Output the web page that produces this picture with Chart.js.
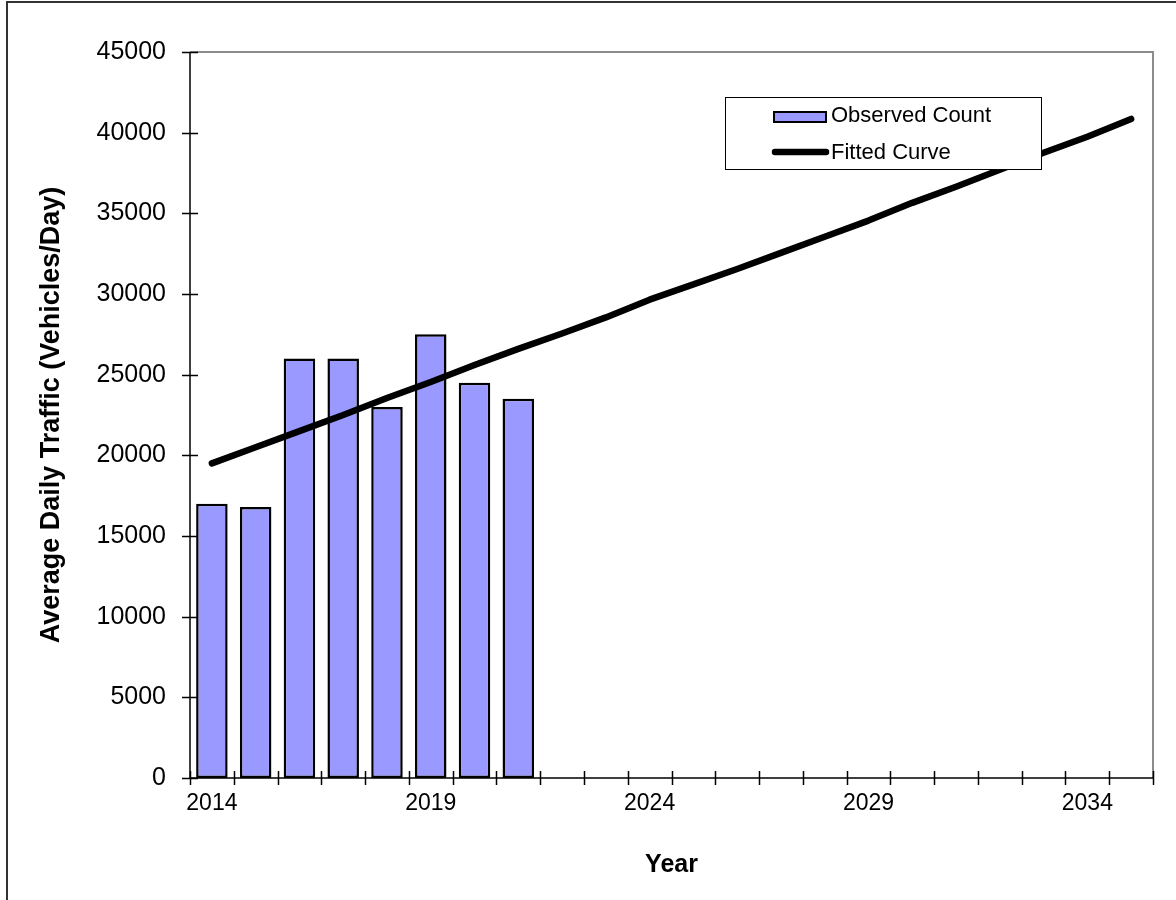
<!DOCTYPE html>
<html>
<head>
<meta charset="utf-8">
<script src="https://cdn.jsdelivr.net/npm/chart.js@4.4.1/dist/chart.umd.min.js"></script>
<style>
  html, body { margin: 0; padding: 0; background: #ffffff; overflow: hidden; }
  canvas { display: block; }
</style>
</head>
<body>
<canvas id="traffic" width="1176" height="900"></canvas>
<script>
// Years on the category axis
const years = ['2014', '2015', '2016', '2017', '2018', '2019', '2020', '2021', '2022', '2023', '2024',
               '2025', '2026', '2027', '2028', '2029', '2030', '2031', '2032', '2033', '2034', '2035'];

// Counted average daily traffic (vehicles/day)
const observedCount = [17000, 16800, 26000, 26000, 23000, 27500, 24500, 23500,
                       null, null, null, null, null, null, null, null, null, null, null, null, null, null];

// Trend fitted through the counts and projected forward
const fittedCurve = [19500, 20500, 21500, 22500, 23550, 24550, 25600, 26600, 27550, 28550, 29650,
                     30600, 31550, 32550, 33550, 34550, 35650, 36650, 37700, 38750, 39750, 40850];

// Years that carry a label under the axis
const labeledYears = ['2014', '2019', '2024', '2029', '2034'];

// Value axis range and step
const yMin = 0;
const yMax = 45000;
const yStep = 5000;

const FONT = '"Liberation Sans", Arial, Helvetica, sans-serif';
const BAR_FILL = '#9999ff';

const chartDecor = {
  id: 'chartDecor',
  beforeDraw(chart) {
    const ctx = chart.ctx;
    ctx.save();
    ctx.fillStyle = '#ffffff';
    ctx.fillRect(0, 0, chart.width, chart.height);
    // outer frame of the chart object
    ctx.strokeStyle = '#333333';
    ctx.lineWidth = 2;
    ctx.strokeRect(7, 2, chart.width + 100, chart.height + 100);
    ctx.restore();
  },
  afterDatasetsDraw(chart) {
    const ctx = chart.ctx;
    const area = chart.chartArea;
    const xs = chart.scales.x;
    const ys = chart.scales.y;
    ctx.save();

    // plot area edges (top / right)
    ctx.strokeStyle = '#8c8c8c';
    ctx.lineWidth = 2;
    ctx.beginPath();
    ctx.moveTo(area.left, area.top);
    ctx.lineTo(area.right, area.top);
    ctx.lineTo(area.right, area.bottom);
    ctx.stroke();

    // axis lines
    ctx.strokeStyle = '#000000';
    ctx.lineWidth = 1.5;
    ctx.beginPath();
    ctx.moveTo(area.left, area.top);
    ctx.lineTo(area.left, area.bottom);
    ctx.lineTo(area.right, area.bottom);
    ctx.stroke();

    // cross tick marks on the value axis
    ctx.lineWidth = 1.5;
    ctx.beginPath();
    ys.ticks.forEach((t, i) => {
      const py = Math.round(ys.getPixelForTick(i)) + 0.5;
      ctx.moveTo(area.left - 8, py);
      ctx.lineTo(area.left + 8, py);
    });
    // cross tick marks between year categories
    const n = years.length;
    const step = (xs.getPixelForValue(1) - xs.getPixelForValue(0));
    for (let i = 0; i <= n; i++) {
      const px = Math.round(xs.getPixelForValue(0) - step / 2 + i * step) + 0.5;
      ctx.moveTo(px, area.bottom - 7);
      ctx.lineTo(px, area.bottom + 7);
    }
    ctx.stroke();

    // legend
    const bx = 725, by = 97, bw = 316, bh = 72;
    ctx.fillStyle = '#ffffff';
    ctx.fillRect(bx, by, bw, bh);
    ctx.strokeStyle = '#000000';
    ctx.lineWidth = 1;
    ctx.strokeRect(bx + 0.5, by + 0.5, bw, bh);

    const ds = chart.data.datasets;
    const barDs = ds.find(d => d.type === 'bar');
    const lineDs = ds.find(d => d.type === 'line');

    ctx.fillStyle = barDs.backgroundColor;
    ctx.fillRect(774, 112, 52, 10);
    ctx.strokeStyle = '#000000';
    ctx.lineWidth = 2;
    ctx.strokeRect(774, 112, 52, 10);

    ctx.strokeStyle = lineDs.borderColor;
    ctx.lineWidth = 6.5;
    ctx.lineCap = 'round';
    ctx.beginPath();
    ctx.moveTo(775, 152);
    ctx.lineTo(826, 152);
    ctx.stroke();

    ctx.fillStyle = '#000000';
    ctx.font = '22px ' + FONT;
    ctx.textAlign = 'left';
    ctx.textBaseline = 'middle';
    ctx.fillText(barDs.label, 831, 116);
    ctx.fillText(lineDs.label, 831, 153);

    ctx.restore();
  }
};

new Chart(document.getElementById('traffic'), {
  type: 'bar',
  data: {
    labels: years,
    datasets: [
      {
        type: 'line',
        label: 'Fitted Curve',
        data: fittedCurve,
        borderColor: '#000000',
        borderWidth: 6.5,
        borderCapStyle: 'round',
        borderJoinStyle: 'round',
        pointRadius: 0,
        tension: 0,
        fill: false,
        order: 0
      },
      {
        type: 'bar',
        label: 'Observed Count',
        data: observedCount,
        backgroundColor: BAR_FILL,
        borderColor: '#000000',
        borderWidth: 2.5,
        borderSkipped: false,
        categoryPercentage: 1,
        barPercentage: 0.72,
        order: 1
      }
    ]
  },
  options: {
    responsive: false,
    animation: false,
    devicePixelRatio: 1,
    layout: { padding: { left: 0, top: 52, right: 23, bottom: 0 } },
    plugins: {
      legend: { display: false },
      tooltip: { enabled: false }
    },
    scales: {
      x: {
        offset: true,
        grid: { display: false, drawTicks: false, offset: true },
        border: { display: false },
        ticks: {
          autoSkip: false,
          maxRotation: 0,
          padding: 12,
          color: '#000000',
          font: { family: FONT, size: 23 },
          callback: function (value, index) {
            const lbl = this.getLabelForValue(value);
            return labeledYears.includes(lbl) ? lbl : '';
          }
        },
        title: {
          display: true,
          text: 'Year',
          color: '#000000',
          font: { family: FONT, size: 25, weight: 'bold' },
          padding: { top: 0, bottom: 20 }
        },
        afterFit(scale) { scale.height = 122; }
      },
      y: {
        min: yMin,
        max: yMax,
        grid: { display: false, drawTicks: false },
        border: { display: false },
        ticks: {
          stepSize: yStep,
          padding: 24,
          color: '#000000',
          font: { family: FONT, size: 25 },
          callback: (value) => String(value)
        },
        title: {
          display: true,
          text: 'Average Daily Traffic (Vehicles/Day)',
          color: '#000000',
          font: { family: FONT, size: 27, weight: 'bold' },
          padding: { top: 35, bottom: 0 }
        },
        afterFit(scale) { scale.width = 190; }
      }
    }
  },
  plugins: [chartDecor]
});
</script>
</body>
</html>
